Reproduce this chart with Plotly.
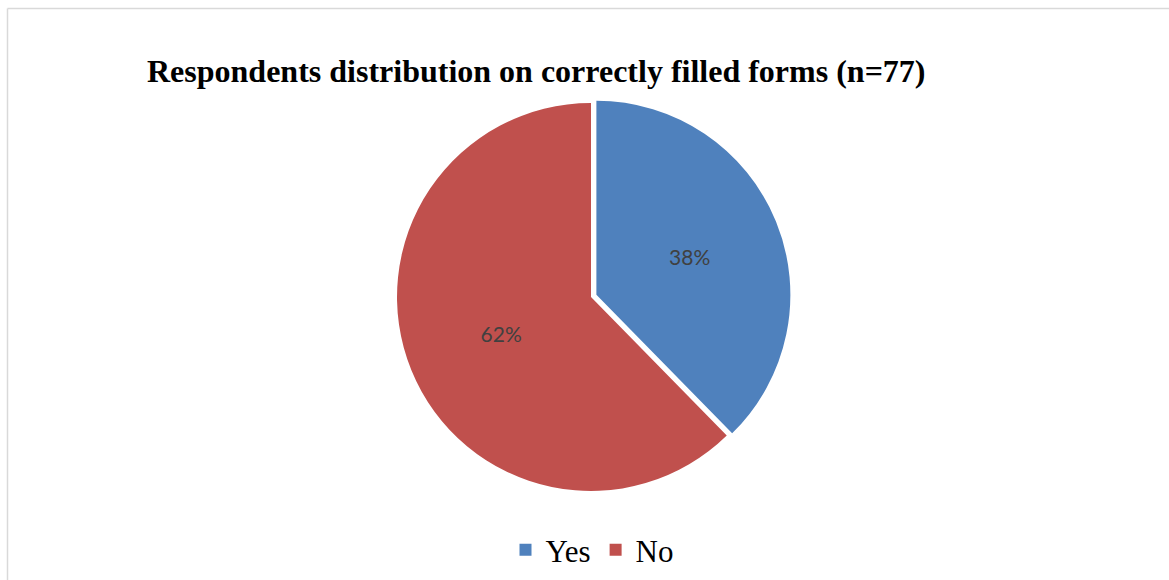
import plotly.graph_objects as go

# Data
categories = ["Yes", "No"]
counts = [29, 48]  # n = 77 -> 38% / 62%
colors = ["#4F81BD", "#C0504D"]
title_text = "Respondents distribution on correctly filled forms (n=77)"

W, H = 1169, 580

fig = go.Figure(
    go.Pie(
        labels=categories,
        values=counts,
        sort=False,
        direction="clockwise",
        rotation=0,
        pull=[0.03, 0],
        marker=dict(colors=colors, line=dict(width=0)),
        texttemplate="%{percent:.0%}",
        textposition="inside",
        insidetextorientation="horizontal",
        textfont=dict(family="Lato, Open Sans, sans-serif", size=21, color="#404040"),
        hoverinfo="label+percent",
        domain=dict(x=[(591 - 250) / W, (591 + 250) / W],
                    y=[1 - 496.8 / H, 1 - 97.2 / H]),
    )
)

fig.update_layout(
    width=W,
    height=H,
    margin=dict(l=0, r=0, t=0, b=0),
    paper_bgcolor="white",
    plot_bgcolor="white",
    showlegend=True,
    legend=dict(
        orientation="h",
        x=592 / W,
        xanchor="center",
        y=1 - 550 / H,
        yanchor="middle",
        font=dict(family="Liberation Serif, Times New Roman, serif", size=31, color="#000000"),
        itemclick=False,
    ),
    annotations=[
        dict(
            text="<b>" + title_text + "</b>",
            x=536.5 / W,
            y=1 - 71 / H,
            xref="paper",
            yref="paper",
            xanchor="center",
            yanchor="middle",
            showarrow=False,
            font=dict(family="Liberation Serif, Times New Roman, serif", size=32, color="#000000"),
        )
    ],
    shapes=[
        dict(type="line", xref="paper", yref="paper",
             x0=7.5 / W, x1=1.01, y0=1 - 8.5 / H, y1=1 - 8.5 / H,
             line=dict(color="#D9D9D9", width=1.5)),
        dict(type="line", xref="paper", yref="paper",
             x0=7.5 / W, x1=7.5 / W, y0=-0.01, y1=1 - 8.5 / H,
             line=dict(color="#D9D9D9", width=1.5)),
    ],
)

fig.write_html("out.html")
